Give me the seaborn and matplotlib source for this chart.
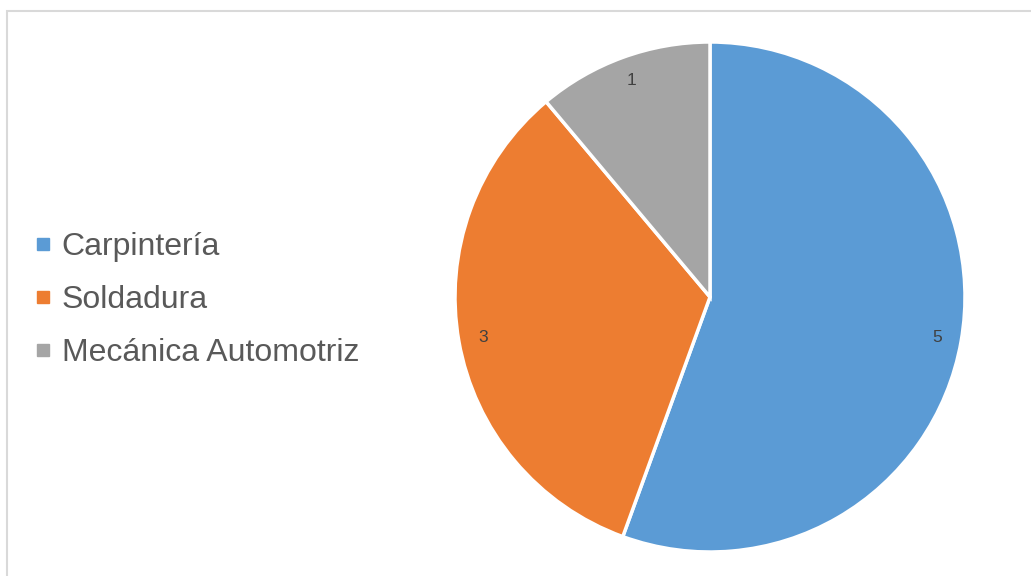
import matplotlib
matplotlib.use("Agg")
import matplotlib.pyplot as plt
import seaborn as sns
from matplotlib.lines import Line2D
from matplotlib.patches import Rectangle

categories = ["Carpintería", "Soldadura", "Mecánica Automotriz"]
values = [5, 3, 1]
colors = ["#5B9BD5", "#ED7D31", "#A5A5A5"]

sns.set_theme(style="white")
plt.rcParams['font.family'] = ['Liberation Sans', 'DejaVu Sans']

W, H = 1031, 576
fig = plt.figure(figsize=(W / 100, H / 100), dpi=100)

# light gray outer frame (top and left visible)
fig.patches.append(Rectangle((7 / W, -0.5), 1.5, 1.5 - 11 / H, transform=fig.transFigure,
                             fill=False, edgecolor="#D9D9D9", linewidth=1.5, clip_on=False))

cx, cy, r = 710, 297, 255
ax = fig.add_axes([(cx - r) / W, 1 - (cy + r) / H, 2 * r / W, 2 * r / H])
palette = sns.color_palette(colors)
wedges, texts, autotexts = ax.pie(
    values, colors=palette, startangle=90, counterclock=False,
    autopct=lambda p: f"{p * sum(values) / 100:.0f}", pctdistance=0.905,
    wedgeprops=dict(edgecolor="white", linewidth=2.5),
    textprops=dict(color="#404040", fontsize=12.5),
)
ax.set_xlim(-1, 1)
ax.set_ylim(-1, 1)
ax.set_aspect("equal")
ax.axis("off")

handles = [Line2D([0], [0], marker="s", linestyle="none", markersize=9,
                  markerfacecolor=c, markeredgecolor=c) for c in palette]
fig.legend(handles, categories, loc="center left", bbox_to_anchor=(0.032, 0.479),
           frameon=False, fontsize=23, labelcolor="#595959", handlelength=0.6,
           handletextpad=0.3, labelspacing=0.72, borderpad=0, borderaxespad=0)

fig.savefig("out.png", dpi=100)
